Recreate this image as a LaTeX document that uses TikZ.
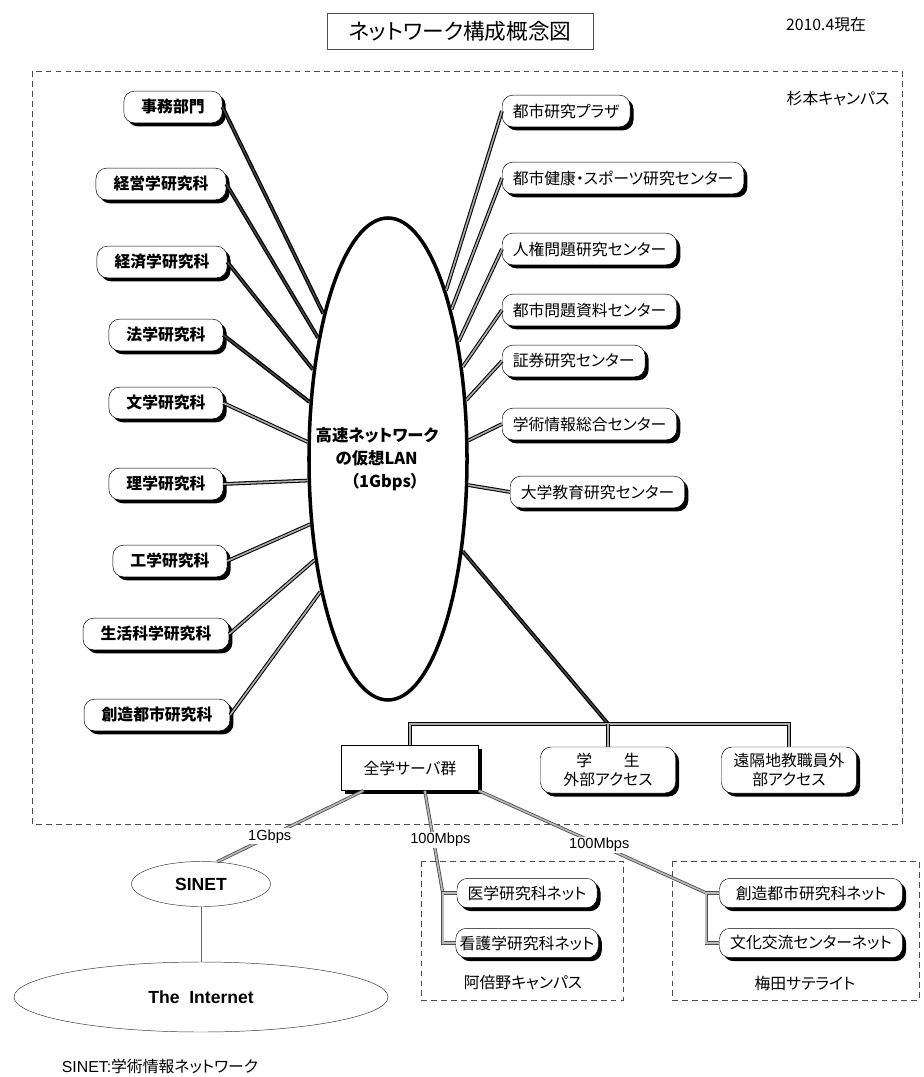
\documentclass[tikz,border=0pt]{standalone}
\usepackage{fontspec}
\setmainfont{Noto Sans CJK JP}[RawFeature={+palt}]
\newfontfamily\latin{Liberation Sans}
\usepackage{tikz}
\usetikzlibrary{shapes.geometric}
\usetikzlibrary{shadows}

\newcommand{\boxfont}{\fontsize{13.5}{16}\selectfont}

\tikzset{
  shade box/.style={drop shadow={shadow xshift=3pt,shadow yshift=-3pt,opacity=1,fill=black}},
  dotlink/.style={draw=black,line width=0.9pt,double=gray!65,double distance=1.4pt},
  netlink/.style={draw=black!70,line width=0.7pt,double=gray!55,double distance=1.4pt},
  ratelabel/.style={font=\latin\fontsize{12.5}{14}\selectfont,fill=white,inner sep=1pt}
}

\begin{document}
\begin{tikzpicture}[x=0.03cm,y=-0.03cm,font=\boxfont]
\useasboundingbox (0,0) rectangle (923,1077);

% frames
\draw[black!70,dash pattern=on 5pt off 3.5pt] (32,71) rectangle (902,824);
\draw[black!70,dash pattern=on 5pt off 3.5pt] (421,861) rectangle (623,1000);
\draw[black!70,dash pattern=on 5pt off 3.5pt] (672,861) rectangle (919,1000);

\node[draw=black!70,minimum width=7.98cm,minimum height=1.08cm,font=\fontsize{18.5}{21}\selectfont] (title) at (460,31) {ネットワーク構成概念図};
\node (date) at (826,25) {2010.4現在};
\node (sugimoto) at (838,99) {杉本キャンパス};
\node (abeno) at (523,983) {阿倍野キャンパス};
\node (umeda) at (805,983) {梅田サテライト};

\node[ellipse,draw,line width=3pt,minimum width=4.74cm,minimum height=14.46cm,inner sep=0pt] (lan) at (388,459) {};
\node[align=left,font=\fontsize{14}{19.5}\selectfont\bfseries] (lantext) at (377,459)
  {高速ネットワーク\\\hspace*{17pt}の仮想LAN\\\hspace*{30pt}（1Gbps）};

\begin{scope}[every node/.style={rectangle,draw,rounded corners=9pt,fill=white,inner xsep=15pt,
              minimum height=27pt,font=\boxfont\bfseries,shade box}]
    \node (jimu) at (173,107) {事務部門};
    \node (keiei) at (161,184) {経営学研究科};
    \node (keizai) at (162,262) {経済学研究科};
    \node (hou) at (166,335) {法学研究科};
    \node (bun) at (166,403) {文学研究科};
    \node (ri) at (166,484) {理学研究科};
    \node (kou) at (170,561) {工学研究科};
    \node (seikatsu) at (156,634) {生活科学研究科};
    \node (souzou) at (157,715) {創造都市研究科};
    \end{scope}

\begin{scope}[every node/.style={rectangle,draw,rounded corners=9pt,fill=white,inner xsep=9pt,
              minimum height=27pt,anchor=west,font=\boxfont,shade box}]
    \node (plaza) at (502,111) {都市研究プラザ};
    \node (kenkou) at (502,178) {都市健康・スポーツ研究センター};
    \node (jinken) at (502,249) {人権問題研究センター};
    \node (toshi) at (502,310) {都市問題資料センター};
    \node (shouken) at (502,361) {証券研究センター};
    \node (gakujo) at (502,424) {学術情報総合センター};
    \node (daikyo) at (510,492) {大学教育研究センター};
    \end{scope}

\node[draw,fill=white,minimum width=4.11cm,minimum height=1.35cm,shade box] (srv) at (410,768) {全学サーバ群};
\begin{scope}[every node/.style={rectangle,draw,rounded corners=9pt,fill=white,align=center,
              minimum width=4.05cm,minimum height=1.38cm,font=\boxfont,shade box}]
    \node (stu) at (608,770) {学　　生\\外部アクセス};
    \node (rem) at (789,770) {遠隔地教職員外\\部アクセス};
    \end{scope}

\begin{scope}[every node/.style={rectangle,draw,rounded corners=9pt,fill=white,
              minimum height=0.88cm,font=\boxfont,shade box}]
    \node[minimum width=4.2cm] (med) at (527,893) {医学研究科ネット};
    \node[minimum width=4.2cm] (nur) at (527,943) {看護学研究科ネット};
    \node[minimum width=5.49cm] (cre) at (811,893) {創造都市研究科ネット};
    \node[minimum width=5.49cm] (cul) at (811,943) {文化交流センターネット};
    \end{scope}

\node[ellipse,draw=black!80,minimum width=4.17cm,minimum height=1.35cm,
      font=\latin\bfseries\fontsize{15}{18}\selectfont] (sinet) at (201,884) {SINET};
\node[ellipse,draw=black!80,minimum width=11.22cm,minimum height=2.1cm,
      font=\latin\bfseries\fontsize{15}{18}\selectfont] (inet) at (201,997) {The\ \ Internet};
\node (note) at (160,1066) {{\latin SINET:}学術情報ネットワーク};

% links to the LAN
\begin{scope}[every edge/.style={draw=black,line width=1.1pt,double=black!70,double distance=1.1pt}]
    \path (jimu.east) edge (lan.114);
    \path (keiei.east) edge (lan.120);
    \path (keizai.east) edge (lan.130);
    \path (hou.east) edge (lan.144);
    \end{scope}

\begin{scope}[every edge/.style={dotlink}]
    \path (bun.east) edge (lan.168);
    \path (ri.east) edge (lan.195);
    \path (kou.east) edge (lan.220);
    \path (seikatsu.east) edge (lan.234);
    \path (souzou.east) edge (lan.243);
    \path (plaza.west) edge (lan.71);
    \path (kenkou.west) edge (lan.67);
    \path (jinken.west) edge (lan.59);
    \path (toshi.west) edge (lan.51);
    \path (shouken.west) edge (lan.37);
    \path (gakujo.west) edge (lan.13);
    \path (daikyo.west) edge (lan.-18);
    \end{scope}

% bus
\path (stu.north) ++(0,-23) coordinate (busj);
\draw[draw=black,line width=1.1pt,double=black!70,double distance=1.1pt] (lan.-51) -- (busj);
\draw[dotlink] (srv.north) |- (busj) -| (rem.north);
\draw[dotlink] (busj) -- (stu.north);

% outside
\path (med.west) ++(-14,0) coordinate (abtop);
\path (cre.west) ++(-13,0) coordinate (umtop);
\draw[netlink] (srv.206) -- node[pos=0.64,ratelabel] {1Gbps} (sinet.54);
\draw[netlink] (srv.-57) -- node[pos=0.48,ratelabel,xshift=6pt] {100Mbps} (abtop);
\draw[netlink] (srv.south east) -- node[pos=0.53,ratelabel] {100Mbps} (umtop);
\draw[netlink] (med.west) -- (abtop) |- (nur.west);
\draw[netlink] (cre.west) -- (umtop) |- (cul.west);
\draw[black!60] (sinet) -- (inet);

\end{tikzpicture}
\end{document}
